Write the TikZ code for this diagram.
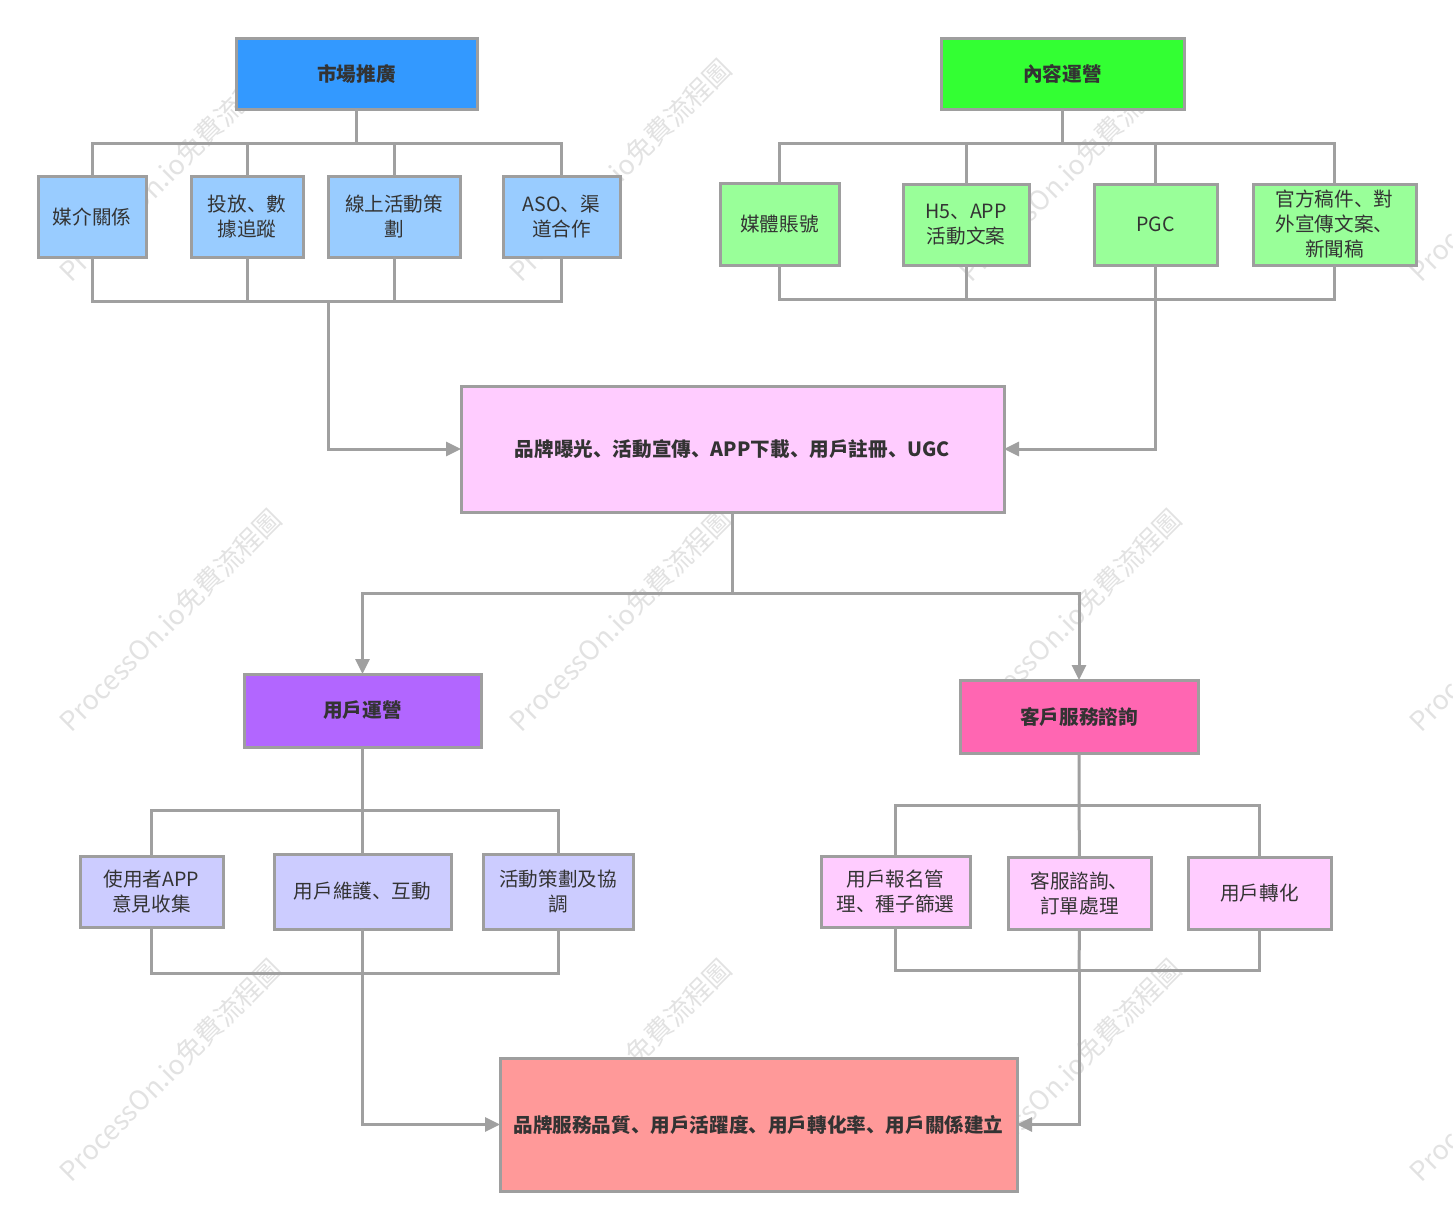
\documentclass[tikz,border=0pt]{standalone}
\usepackage{fontspec}
\setmainfont{Noto Sans CJK SC}
\usetikzlibrary{arrows.meta}
\definecolor{lc}{HTML}{A0A0A0}
\definecolor{bc}{HTML}{9E9E9E}
\definecolor{tc}{HTML}{333333}
\definecolor{cBlue}{HTML}{3399FF}
\definecolor{cBlueL}{HTML}{99CCFF}
\definecolor{cGreen}{HTML}{33FF33}
\definecolor{cGreenL}{HTML}{99FF99}
\definecolor{cPinkL}{HTML}{FFCCFF}
\definecolor{cPurple}{HTML}{B266FF}
\definecolor{cPurpleL}{HTML}{CCCCFF}
\definecolor{cPink}{HTML}{FF66B2}
\definecolor{cRed}{HTML}{FF9999}
\definecolor{wm}{HTML}{E2E2E2}
\tikzset{
  box/.style={draw=bc, line width=1.5pt, inner sep=0pt, outer sep=0pt, align=center,
    text=tc, font=\fontsize{9.8}{12.5}\selectfont},
  head/.style={box, font=\fontsize{9.8}{12.5}\selectfont\bfseries},
  conn/.style={draw=lc, line width=1.5pt},
  arr/.style={conn, -{Triangle[length=7.5pt,width=7pt]}},
  wmark/.style={rotate=45, text=wm, font=\fontsize{13.5}{16}\selectfont, inner sep=0pt}
}
\begin{document}
\begin{tikzpicture}[x=0.5pt,y=-0.5pt]
\useasboundingbox (0,0) rectangle (1453,1228);
% ---- watermarks (behind everything)
\begin{scope}
\clip (0,0) rectangle (1453,1228);
\foreach \yy in {170,620,1070}{
  \foreach \xx in {170,620,1070,1520}{
    \node[wmark] (wm-\xx-\yy) at (\xx,\yy) {ProcessOn.io免費流程圖};
  }
}
\end{scope}
% ---- market
\node[head, fill=cBlue, minimum width=120.5pt, minimum height=35.5pt] (mkt) at (356.5,73.5) {市場推廣};
\node[box, fill=cBlueL, minimum width=54pt, minimum height=40.5pt] (m1) at (92,216.5) {媒介關係};
\node[box, fill=cBlueL, minimum width=56pt, minimum height=40.5pt] (m2) at (247,216.5) {投放、數\\據追蹤};
\node[box, fill=cBlueL, minimum width=66pt, minimum height=40.5pt] (m3) at (394,216.5) {線上活動策\\劃};
\node[box, fill=cBlueL, minimum width=58.5pt, minimum height=40.5pt] (m4) at (561.5,216.5) {ASO、渠\\道合作};
% ---- content
\node[head, fill=cGreen, minimum width=121.5pt, minimum height=35.5pt] (cnt) at (1062.5,73.5) {內容運營};
\node[box, fill=cGreenL, minimum width=59.5pt, minimum height=41pt] (c1) at (779.5,224) {媒體賬號};
\node[box, fill=cGreenL, minimum width=63pt, minimum height=40.5pt] (c2) at (966,224.5) {H5、APP\\活動文案};
\node[box, fill=cGreenL, minimum width=61.5pt, minimum height=40.5pt] (c3) at (1155.5,224.5) {PGC};
\node[box, fill=cGreenL, minimum width=81.5pt, minimum height=40.5pt] (c4) at (1334.5,224.5) {官方稿件、對\\外宣傳文案、\\新聞稿};
% ---- middle
\node[head, fill=cPinkL, minimum width=271.5pt, minimum height=63pt] (mid) at (732.5,449) {品牌曝光、活動宣傳、APP下載、用戶註冊、UGC};
% ---- users
\node[head, fill=cPurple, minimum width=118.5pt, minimum height=36.5pt] (usr) at (362.5,710.5) {用戶運營};
\node[box, fill=cPurpleL, minimum width=71.5pt, minimum height=35.5pt] (u1) at (151.5,891.5) {使用者APP\\意見收集};
\node[box, fill=cPurpleL, minimum width=88.5pt, minimum height=37.5pt] (u2) at (362.5,891.5) {用戶維護、互動};
\node[box, fill=cPurpleL, minimum width=75pt, minimum height=37.5pt] (u3) at (558,891.5) {活動策劃及協\\調};
% ---- service
\node[head, fill=cPink, minimum width=119pt, minimum height=36.5pt] (svc) at (1079,716.5) {客戶服務諮詢};
\node[box, fill=cPinkL, minimum width=74.5pt, minimum height=35.5pt] (s1) at (895.5,891.5) {用戶報名管\\理、種子篩選};
\node[box, fill=cPinkL, minimum width=71.5pt, minimum height=36pt] (s2) at (1079.5,893) {客服諮詢、\\訂單處理};
\node[box, fill=cPinkL, minimum width=71.5pt, minimum height=36pt] (s3) at (1259.5,893) {用戶轉化};
% ---- final
\node[head, fill=cRed, minimum width=258.5pt, minimum height=66.5pt] (fin) at (758.5,1124.5) {品牌服務品質、用戶活躍度、用戶轉化率、用戶關係建立};

% ---- connectors: market
\coordinate (mtop) at (356.5,143);
\coordinate (mbot) at (328,301);
\draw[conn] (mkt.south) -- (mtop);
\draw[conn] (m1.north) -- (m1.north |- mtop) -- (m4.north |- mtop) -- (m4.north);
\draw[conn] (m2.north) -- (m2.north |- mtop);
\draw[conn] (m3.north) -- (m3.north |- mtop);
\draw[conn] (m1.south) -- (m1.south |- mbot) -- (m4.south |- mbot) -- (m4.south);
\draw[conn] (m2.south) -- (m2.south |- mbot);
\draw[conn] (m3.south) -- (m3.south |- mbot);
\draw[arr] (mbot) |- (mid.west);
% ---- content
\coordinate (ctop) at (1062.5,143);
\coordinate (cbot) at (1155.5,299);
\draw[conn] (cnt.south) -- (ctop);
\draw[conn] (c1.north) -- (c1.north |- ctop) -- (c4.north |- ctop) -- (c4.north);
\draw[conn] (c2.north) -- (c2.north |- ctop);
\draw[conn] (c3.north) -- (c3.north |- ctop);
\draw[conn] (c1.south) -- (c1.south |- cbot) -- (c4.south |- cbot) -- (c4.south);
\draw[conn] (c2.south) -- (c2.south |- cbot);
\draw[conn] (c3.south) -- (cbot);
\draw[arr] (cbot) |- (mid.east);
% ---- split
\coordinate (split) at (732.5,593);
\draw[conn] (mid.south) -- (split);
\draw[arr] (split) -| (usr.north);
\draw[arr] (split) -| (svc.north);
% ---- users
\coordinate (utop) at (362.5,810);
\coordinate (ubot) at (362.5,973);
\draw[conn] (usr.south) -- (u2.north);
\draw[conn] (u1.north) -- (u1.north |- utop) -- (u3.north |- utop) -- (u3.north);
\draw[conn] (u1.south) -- (u1.south |- ubot) -- (u3.south |- ubot) -- (u3.south);
\draw[conn] (u2.south) -- (ubot);
\draw[arr] (ubot) |- (fin.west);
% ---- service
\coordinate (stop) at (1079,805);
\coordinate (sbot) at (1079,970);
\draw[conn] (svc.south) -- (stop) -- (s2.north);
\draw[conn] (s1.north) -- (s1.north |- stop) -- (s3.north |- stop) -- (s3.north);
\draw[conn] (s1.south) -- (s1.south |- sbot) -- (s3.south |- sbot) -- (s3.south);
\draw[conn] (s2.south) -- (sbot);
\draw[arr] (sbot) |- (fin.east);
\end{tikzpicture}
\end{document}
